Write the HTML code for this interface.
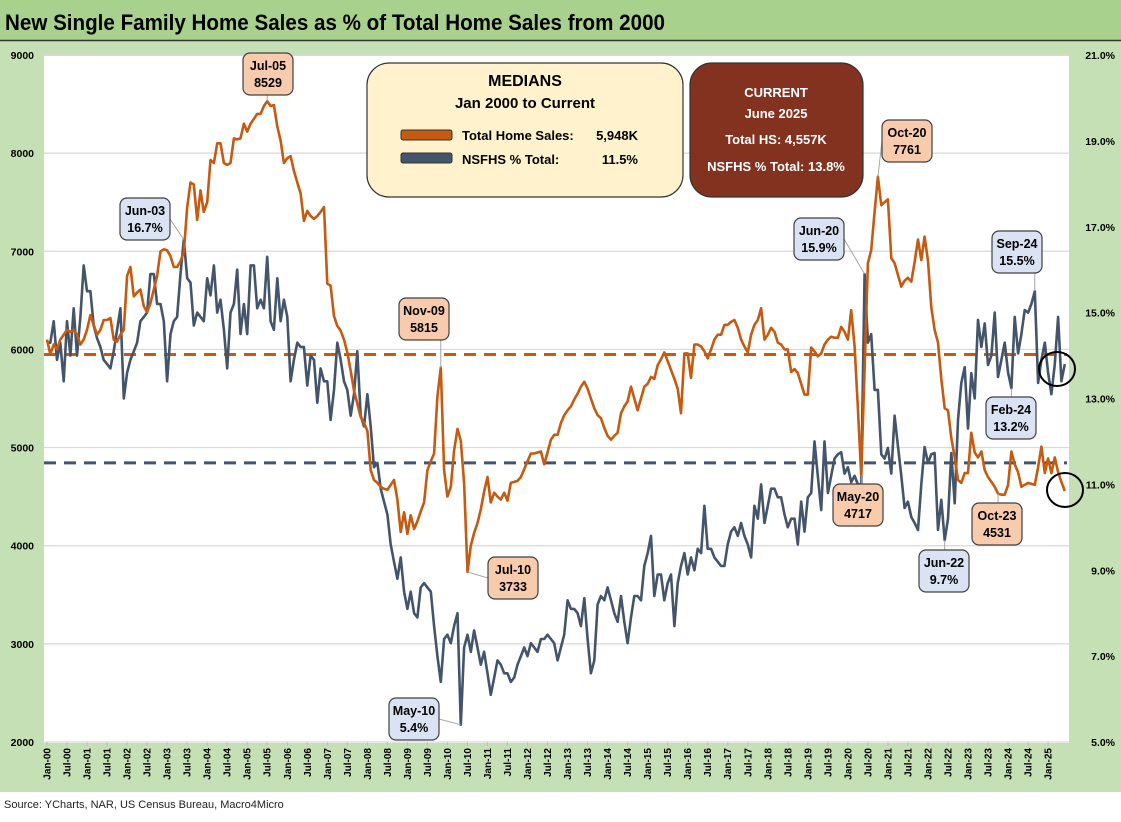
<!DOCTYPE html>
<html><head><meta charset="utf-8"><style>
body{margin:0;width:1121px;height:817px;overflow:hidden;background:#fff;font-family:"Liberation Sans",Arial,sans-serif}
svg text{font-family:"Liberation Sans",Arial,sans-serif}
</style></head><body>
<svg id="chart" width="1121" height="817" viewBox="0 0 1121 817" xmlns="http://www.w3.org/2000/svg">
<rect x="0" y="0" width="1121" height="792" fill="#C5E0B4"/>
<rect x="0" y="0" width="1121" height="40" fill="#A9D18E"/>
<line x1="0" y1="40.5" x2="1121" y2="40.5" stroke="#333" stroke-width="1.5"/>
<text x="5" y="30" font-size="22" font-weight="bold" fill="#000" textLength="660" lengthAdjust="spacingAndGlyphs">New Single Family Home Sales as % of Total Home Sales from 2000</text>
<rect x="44" y="56" width="1025" height="687" fill="#fff"/>
<g id="grid"></g><g id="axes"></g><g id="series"></g>
<g>
<rect x="367" y="63" width="316" height="134" rx="22" fill="#FFF2CC" stroke="#333" stroke-width="1.2"/>
<text x="525" y="86" font-size="16" font-weight="bold" text-anchor="middle">MEDIANS</text>
<text x="525" y="108" font-size="15" font-weight="bold" text-anchor="middle">Jan 2000 to Current</text>
<rect x="401" y="130" width="51" height="10" rx="2" fill="#C55A11" stroke="#333"/>
<rect x="401" y="153" width="51" height="10" rx="2" fill="#44546A" stroke="#333"/>
<text x="462" y="140" font-size="13" font-weight="bold">Total Home Sales:</text>
<text x="638" y="140" font-size="13" font-weight="bold" text-anchor="end">5,948K</text>
<text x="462" y="164" font-size="13" font-weight="bold">NSFHS % Total:</text>
<text x="638" y="164" font-size="13" font-weight="bold" text-anchor="end">11.5%</text>
</g>
<g>
<rect x="690" y="63" width="173" height="134" rx="22" fill="#843220" stroke="#333" stroke-width="1.2"/>
<text x="776" y="97" font-size="13" font-weight="bold" fill="#fff" text-anchor="middle">CURRENT</text>
<text x="776" y="118" font-size="13" font-weight="bold" fill="#fff" text-anchor="middle">June 2025</text>
<text x="776" y="144" font-size="13" font-weight="bold" fill="#fff" text-anchor="middle">Total HS:  4,557K</text>
<text x="776" y="171" font-size="13" font-weight="bold" fill="#fff" text-anchor="middle">NSFHS % Total:  13.8%</text>
</g>
<g id="notes"></g>
<ellipse cx="1057" cy="369" rx="18" ry="17" fill="none" stroke="#000" stroke-width="2"/>
<ellipse cx="1065" cy="490" rx="18" ry="17" fill="none" stroke="#000" stroke-width="2"/>
<text x="4" y="808" font-size="11" fill="#222">Source: YCharts, NAR, US Census Bureau, Macro4Micro</text>
</svg>
<script>
const totalSales = [
6100,5950,6050,6000,6100,6150,6200,6180,6200,6150,6050,6100,
6200,6350,6250,6150,6200,6300,6300,6320,6100,6080,6150,6200,
6750,6840,6540,6580,6610,6440,6380,6470,6610,6750,7000,7020,
7010,6950,6840,6840,6900,6990,7450,7700,7680,7320,7620,7400,
7500,7930,7900,8100,8100,7900,7880,7900,8150,8140,8150,8300,
8220,8300,8350,8400,8400,8480,8529,8480,8490,8270,8130,7900,
7950,7970,7820,7700,7590,7310,7410,7360,7330,7360,7400,7450,
6670,6650,6340,6240,6190,6100,5970,5780,5580,5450,5310,5250,
5170,4770,4670,4640,4600,4580,4570,4620,4670,4470,4140,4340,
4120,4310,4170,4250,4350,4440,4770,4860,4940,5520,5815,4770,
4500,4600,4970,5190,5070,4640,3733,4000,4130,4230,4370,4550,
4700,4440,4540,4500,4470,4540,4460,4640,4650,4660,4700,4780,
4860,4940,4940,4950,4960,4830,4950,5080,5130,5130,5250,5330,
5380,5420,5490,5550,5620,5670,5600,5500,5400,5330,5300,5200,
5120,5080,5120,5150,5350,5420,5470,5620,5500,5380,5500,5620,
5650,5720,5700,5840,5900,5970,5880,5790,5700,5600,5350,5960,
5960,5710,6050,6050,6030,5980,5910,6000,6100,6150,6150,6250,
6250,6280,6300,6220,6100,6030,5970,6150,6250,6300,6420,6100,
6150,6220,6180,6070,6050,6000,6000,5770,5800,5760,5650,5540,
5540,6020,5980,5930,5960,6050,6100,6130,6120,6120,6230,6180,
6100,6400,6030,5400,4717,5800,6880,7010,7400,7761,7470,7500,
7530,6930,6880,6760,6640,6700,6730,6690,6890,7120,6910,7150,
6900,6430,6200,6070,5700,5400,5380,5100,4900,4670,4640,4740,
4740,5150,4950,4900,4960,4770,4700,4650,4600,4531,4520,4520,
4620,4960,4830,4750,4600,4620,4640,4630,4620,4800,5010,4740,
4890,4740,4900,4750,4650,4557];
const nsfhsPct = [
14.3,14.3,14.8,13.9,14.3,13.4,14.8,14.0,15.1,14.0,14.9,16.1,
15.5,15.5,14.7,14.4,14.2,13.9,13.8,13.7,14.1,14.6,15.1,13.0,
13.6,13.9,14.1,14.3,14.8,14.9,15.0,15.9,15.9,15.2,15.2,14.8,
13.4,14.5,14.8,14.9,15.9,16.7,15.8,15.7,14.7,15.0,14.9,14.8,
15.8,15.4,16.1,15.0,15.3,14.6,13.7,15.0,15.2,16.0,14.5,15.2,
14.5,16.1,16.1,15.1,15.3,15.1,16.3,14.8,14.6,15.8,14.8,15.3,
14.9,13.4,13.9,14.3,14.2,14.2,13.3,14.0,13.9,12.9,13.7,13.4,
13.4,12.5,13.2,14.3,13.9,13.4,13.2,12.6,13.1,14.1,12.6,12.35,
13.1,12.35,11.4,11.5,10.9,10.6,10.3,9.6,9.2,8.8,9.3,8.5,
8.1,8.5,8.0,7.9,8.6,8.7,8.6,8.5,7.7,7.0,6.4,7.4,
7.5,7.3,7.7,8.0,5.4,7.2,7.5,7.1,7.6,7.2,6.8,7.1,
6.6,6.1,6.5,6.9,6.8,6.6,6.6,6.4,6.5,6.8,7.0,7.2,
7.0,7.3,7.2,7.1,7.4,7.4,7.5,7.4,7.3,6.9,7.2,7.5,
8.3,8.1,8.1,8.0,7.7,8.35,7.4,6.6,6.9,8.2,8.4,8.3,
8.6,8.3,8.0,7.8,8.4,7.8,7.3,7.9,8.4,8.4,8.3,9.1,
9.4,9.8,8.4,8.9,8.9,8.3,8.7,8.9,7.7,8.7,9.1,9.4,
8.9,9.3,9.0,9.5,9.4,10.5,9.5,9.5,9.3,9.2,9.1,9.1,
9.6,9.9,10.0,9.8,10.1,9.8,9.6,9.3,10.5,10.2,11.0,10.1,
10.5,10.9,10.9,10.7,10.7,10.3,10.0,10.2,10.2,9.6,10.6,9.9,
10.7,10.8,12.0,11.2,10.4,12.0,10.8,11.2,11.6,11.7,11.75,11.25,
11.4,11.05,11.2,11.0,11.0,15.9,14.3,14.5,13.2,13.2,11.7,11.6,
11.85,11.25,12.6,11.9,11.2,10.45,10.6,10.24,10.1,9.94,11.0,11.87,
11.5,11.7,11.73,9.94,10.64,9.7,10.2,11.73,10.56,12.5,13.36,13.73,
12.3,13.59,13.0,14.83,14.2,14.75,13.78,14.0,15.0,13.5,13.9,14.3,
13.6,13.24,14.9,14.05,14.5,15.06,15.0,15.2,15.5,13.36,13.9,14.3,
13.6,13.1,13.8,14.9,13.4,13.8];
const medianTotal = 5948;
const medianPct = 11.5;
const leftTicks = [2000,3000,4000,5000,6000,7000,8000,9000];
const rightTicks = [5,7,9,11,13,15,17,19,21];
const monthNames = ["Jan","Jul"];
const callouts = [
 {m:66, s:"t", t1:"Jul-05", t2:"8529", bx:243, by:53},
 {m:41, s:"p", t1:"Jun-03", t2:"16.7%", bx:120, by:198},
 {m:118, s:"t", t1:"Nov-09", t2:"5815", bx:399, by:298},
 {m:126, s:"t", t1:"Jul-10", t2:"3733", bx:488, by:557},
 {m:124, s:"p", t1:"May-10", t2:"5.4%", bx:389, by:698},
 {m:245, s:"p", t1:"Jun-20", t2:"15.9%", bx:794, by:218},
 {m:244, s:"t", t1:"May-20", t2:"4717", bx:833, by:484},
 {m:249, s:"t", t1:"Oct-20", t2:"7761", bx:882, by:120},
 {m:296, s:"p", t1:"Sep-24", t2:"15.5%", bx:992, by:231},
 {m:289, s:"p", t1:"Feb-24", t2:"13.2%", bx:986, by:397},
 {m:269, s:"p", t1:"Jun-22", t2:"9.7%", bx:919, by:550},
 {m:285, s:"t", t1:"Oct-23", t2:"4531", bx:972, by:503}
];
const NS="http://www.w3.org/2000/svg";
const PL=44, PR=1069, PT=55, PB=742;
function xm(m){return 47 + m*3.337;}
function yL(v){return PB - (v-2000)/7000*(PB-PT);}
function yR(p){return PB - (p-5)/16*(PB-PT);}
function mk(tag, attrs, parent, txt){const e=document.createElementNS(NS,tag);for(const k in attrs)e.setAttribute(k,attrs[k]);if(txt!==undefined)e.textContent=txt;parent.appendChild(e);return e;}
const grid=document.getElementById('grid'), axes=document.getElementById('axes'), series=document.getElementById('series'), notes=document.getElementById('notes');
leftTicks.forEach(v=>{
  const l=mk('line',{x1:PL,x2:PR,y1:yL(v),y2:yL(v),stroke:'#D9D9D9','stroke-width':1.2},grid);
  
  
  const t=mk('text',{x:34,y:yL(v)+4,'font-size':10.5,'font-weight':'bold','text-anchor':'end'},axes,String(v));
  
  
});
rightTicks.forEach(p=>{
  const t=mk('text',{x:1115,y:yR(p)+4,'font-size':10.5,'font-weight':'bold','text-anchor':'end'},axes,p.toFixed(1)+'%');
  
  
});
for(let m=0;m<totalSales.length;m+=6){
  const yr=String(Math.floor(m/12)).padStart(2,'0');
  const lab=monthNames[(m%12)/6]+'-'+yr;
  const x=xm(m);
  mk('line',{x1:x,x2:x,y1:PB,y2:PB+4,stroke:'#BFBFBF'},axes);
  const t=mk('text',{x:0,y:0,'font-size':10,'font-weight':'bold','text-anchor':'end',transform:`translate(${x+3.5},748) rotate(-90)`},axes,lab);
  
  
}
const mt=mk('line',{x1:PL,x2:PR-2,y1:yL(medianTotal),y2:yL(medianTotal),stroke:'#C55A11','stroke-width':3,'stroke-dasharray':'12 8'},series);


const mp=mk('line',{x1:PL,x2:PR-2,y1:yR(medianPct),y2:yR(medianPct),stroke:'#44546A','stroke-width':3,'stroke-dasharray':'12 8'},series);


const pb=mk('path',{d:nsfhsPct.map((p,i)=>(i?'L':'M')+xm(i).toFixed(1)+' '+yR(p).toFixed(1)).join(''),fill:'none',stroke:'#44546A','stroke-width':2.6,'stroke-linejoin':'round'},series);


const po=mk('path',{d:totalSales.map((v,i)=>(i?'L':'M')+xm(i).toFixed(1)+' '+yL(v).toFixed(1)).join(''),fill:'none',stroke:'#C55A11','stroke-width':2.6,'stroke-linejoin':'round'},series);


callouts.forEach(c=>{
  const px=xm(c.m), py=c.s==='t'?yL(totalSales[c.m]):yR(nsfhsPct[c.m]);
  const w=50,h=42;
  let ax=Math.min(Math.max(px,c.bx),c.bx+w), ay=(py<c.by)?c.by:(py>c.by+h?c.by+h:c.by+h/2);
  if(px>c.bx && px<c.bx+w){ay=py<c.by?c.by:c.by+h;}
  else {ax = px<c.bx?c.bx:c.bx+w; ay=c.by+h/2;}
  const ln=mk('line',{x1:ax,y1:ay,x2:px,y2:py,stroke:'#A6A6A6','stroke-width':1},notes);
  
  
  const g=mk('g',{},notes);
  
  
  mk('rect',{x:c.bx,y:c.by,width:w,height:h,rx:7,fill:c.s==='t'?'#F8CBAD':'#DAE3F3',stroke:'#404040','stroke-width':1.2},g);
  mk('text',{x:c.bx+w/2,y:c.by+17,'font-size':12.5,'font-weight':'bold','text-anchor':'middle'},g,c.t1);
  mk('text',{x:c.bx+w/2,y:c.by+34,'font-size':12.5,'font-weight':'bold','text-anchor':'middle'},g,c.t2);
});
</script>
</body></html>
